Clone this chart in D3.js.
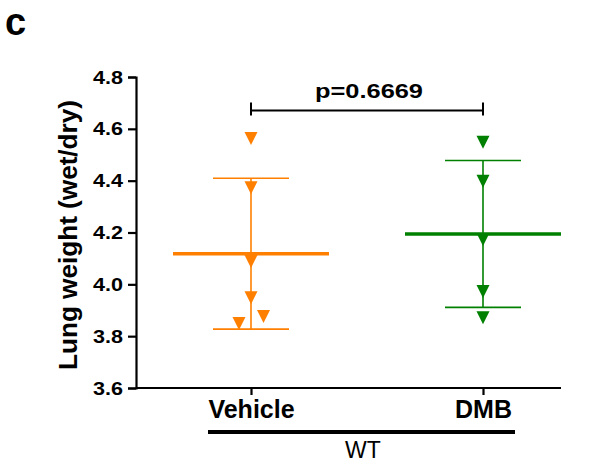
<!DOCTYPE html>
<html>
<head>
<meta charset="utf-8">
<script src="https://cdn.jsdelivr.net/npm/d3@7"></script>
<style>
  body { margin: 0; background: #fff; }
  text { font-family: "Liberation Sans", Arial, sans-serif; }
</style>
</head>
<body>
<div id="chart"></div>
<script>
// data
var groups = ["Vehicle", "DMB"];
var vehicleValues = [4.565, 4.375, 4.09, 3.95, 3.878, 3.851];
var dmbValues = [4.55, 4.40, 4.175, 3.974, 3.873];
var groupColors = ["#ff8000", "#008000"];
var yTicks = [3.6, 3.8, 4.0, 4.2, 4.4, 4.6, 4.8];
var pLabel = "p=0.6669";
var genotype = "WT";

var svgWidth = 616, svgHeight = 465;
var svg = d3.select("#chart").append("svg").attr("width", svgWidth).attr("height", svgHeight);

var y = d3.scaleLinear().domain([3.6, 4.8]).range([388, 77]);
var x = d3.scalePoint().domain(groups).range([251, 483]);

// y axis
var yAxis = svg.append("g")
  .attr("transform", "translate(136,0)")
  .call(d3.axisLeft(y).tickValues(yTicks).tickFormat(d3.format(".1f")).tickSize(8).tickPadding(5));
yAxis.select(".domain").attr("stroke-width", 2.2);
yAxis.selectAll(".tick line").attr("stroke-width", 2.2);
yAxis.selectAll(".tick text")
  .attr("font-size", 19).attr("font-weight", "bold").attr("fill", "#000")
  .attr("font-family", "Liberation Sans, Arial, sans-serif")
  .attr("textLength", 30).attr("lengthAdjust", "spacingAndGlyphs");

// x axis
var xAxis = svg.append("g")
  .attr("transform", "translate(0,388)")
  .call(d3.axisBottom(x).tickSize(7).tickSizeOuter(0).tickPadding(8));
xAxis.select(".domain").attr("d", "M136,0H561").attr("stroke-width", 2.2);
xAxis.selectAll(".tick line").attr("stroke-width", 2.2);
xAxis.selectAll(".tick text")
  .attr("font-size", 25).attr("font-weight", "bold").attr("fill", "#000")
  .attr("font-family", "Liberation Sans, Arial, sans-serif")
  .attr("dy", "0.6em");

// group underline + genotype
svg.append("line").attr("x1", 208).attr("x2", 515).attr("y1", 432).attr("y2", 432)
  .attr("stroke", "#000").attr("stroke-width", 4);
svg.append("text").attr("x", 363).attr("y", 458).attr("text-anchor", "middle")
  .attr("font-size", 23).text(genotype);

// y title
svg.append("text")
  .attr("transform", "translate(77,235) rotate(-90)")
  .attr("text-anchor", "middle")
  .attr("font-size", 25).attr("font-weight", "bold")
  .attr("textLength", 270).attr("lengthAdjust", "spacingAndGlyphs")
  .text("Lung weight (wet/dry)");

// panel letter
svg.append("text").attr("x", 5).attr("y", 35)
  .attr("font-size", 38).attr("font-weight", "bold").text("c");

// per-group stats and points
var series = [vehicleValues, dmbValues];
var tri = "M-6.5,-6L6.5,-6L0,7Z";

series.forEach(function(vals, i) {
  var cx = x(groups[i]);
  var color = groupColors[i];
  var mean = d3.mean(vals);
  var sd = d3.deviation(vals);
  var g = svg.append("g");

  // dodge points that would overlap
  var sorted = vals.slice().sort(d3.descending);
  var pts = sorted.map(function(v) {
    var near = sorted.filter(function(o) { return Math.abs(y(o) - y(v)) < 10; });
    var off = 0;
    if (near.length > 1) off = near.indexOf(v) === 0 ? 12.5 : -12;
    return {v: v, off: off};
  });

  g.append("line").attr("x1", cx).attr("x2", cx).attr("y1", y(mean + sd)).attr("y2", y(mean - sd))
    .attr("stroke", color).attr("stroke-width", 1.6);
  [mean + sd, mean - sd].forEach(function(v) {
    g.append("line").attr("x1", cx - 38).attr("x2", cx + 38).attr("y1", y(v)).attr("y2", y(v))
      .attr("stroke", color).attr("stroke-width", 1.6);
  });

  g.selectAll("path.pt").data(pts).enter().append("path")
    .attr("class", "pt")
    .attr("d", tri)
    .attr("transform", function(d) { return "translate(" + (cx + d.off) + "," + y(d.v) + ")"; })
    .attr("fill", color);

  g.append("line").attr("x1", cx - 78).attr("x2", cx + 78).attr("y1", y(mean)).attr("y2", y(mean))
    .attr("stroke", color).attr("stroke-width", 3.5);
});

// significance bracket
var by = 110.5;
svg.append("path")
  .attr("d", "M" + x(groups[0]) + "," + (by - 8) + "V" + (by + 5) + "M" + x(groups[0]) + "," + by +
             "H" + x(groups[1]) + "M" + x(groups[1]) + "," + (by - 8) + "V" + (by + 5))
  .attr("stroke", "#000").attr("stroke-width", 2).attr("fill", "none");
svg.append("text").attr("x", 369).attr("y", 97.5).attr("text-anchor", "middle")
  .attr("font-size", 20).attr("font-weight", "bold")
  .attr("textLength", 108).attr("lengthAdjust", "spacingAndGlyphs")
  .text(pLabel);
</script>
</body>
</html>
